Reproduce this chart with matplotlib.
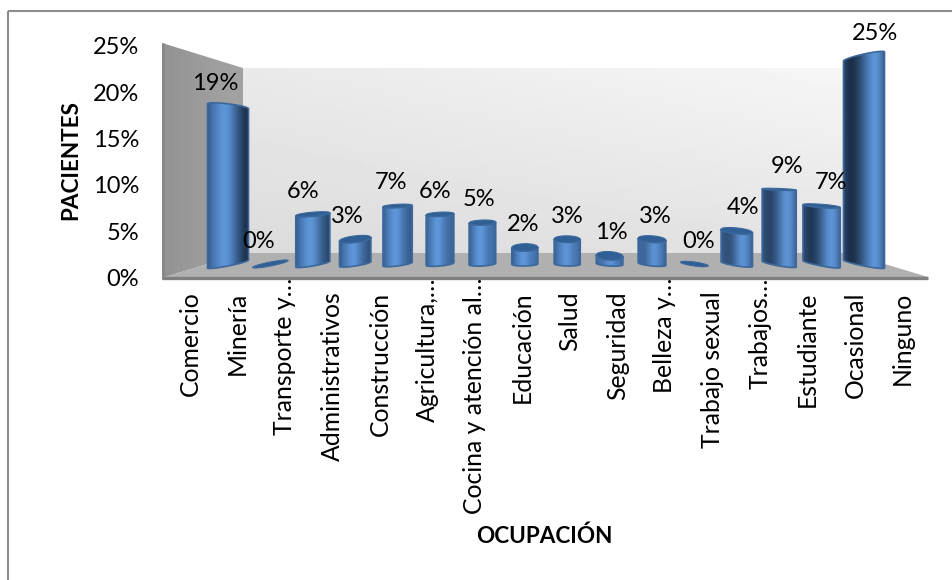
import numpy as np
import matplotlib
matplotlib.use('Agg')
import matplotlib.pyplot as plt
from matplotlib.patches import Polygon, Rectangle
from matplotlib.colors import to_rgb
from matplotlib.transforms import ScaledTranslation

plt.rcParams['font.family'] = ['Lato', 'DejaVu Sans']

categorias = ['Comercio', 'Minería', 'Transporte y…', 'Administrativos', 'Construcción',
              'Agricultura,…', 'Cocina y atención al…', 'Educación', 'Salud', 'Seguridad',
              'Belleza y…', 'Trabajo sexual', 'Trabajos…', 'Estudiante', 'Ocasional', 'Ninguno']
pacientes = [19, 0, 6, 3, 7, 6, 5, 2, 3, 1, 3, 0, 4, 9, 7, 25]
y_ticks = [0, 5, 10, 15, 20, 25]

W, H = 952, 580
fig = plt.figure(figsize=(W / 100, H / 100), dpi=100)


def axes_px(x0, y_top, x1, y_bottom):
    # axes from pixel box (y measured from top of the picture)
    a = fig.add_axes([x0 / W, 1 - y_bottom / H, (x1 - x0) / W, (y_bottom - y_top) / H])
    a.patch.set_alpha(0)
    return a


# background: frame (only top and left are in the picture) + the 3D box
bg = axes_px(0, 0, W, H)
bg.axis('off')
bg.plot([7.5, W], [11, 11], color='#8c8c8c', lw=1.5, solid_capstyle='butt', zorder=1)
bg.plot([7.5, 7.5], [11, H], color='#8c8c8c', lw=1.5, solid_capstyle='butt', zorder=1)

# back wall, soft gradient
gx, gy = np.meshgrid(np.linspace(0, 1, 60), np.linspace(0, 1, 60))
wall = 0.945 - 0.055 * gy - 0.03 * (1 - gx) + 0.02 * gx * (1 - gy)
bg.imshow(wall, extent=(243, 848, 253, 68), cmap='gray', vmin=0, vmax=1, aspect='auto', zorder=1)
# left wall, a bit darker to the outside
lw_img = bg.imshow(np.array([[0.58, 0.60, 0.62, 0.63]]), extent=(162, 243, 278, 43), cmap='gray',
                   vmin=0, vmax=1, aspect='auto', zorder=1, interpolation='bilinear')
lw_img.set_clip_path(Polygon([(162, 43), (243, 68), (243, 253), (162, 278)], transform=bg.transData))
bg.add_patch(Polygon([(162, 278), (243, 253), (848, 253), (928, 277)], fc='#b0b0b0', ec='none', zorder=2))
bg.plot([162, 928], [278, 278], color='#7f7f7f', lw=2.4, solid_capstyle='butt', zorder=3)
bg.plot([163, 163], [43, 279], color='#888888', lw=2.0, solid_capstyle='butt', zorder=3)
bg.set_xlim(0, W)
bg.set_ylim(H, 0)

# axis with the tick labels
ax = axes_px(166.25, 46, 926.25, 277.5)
ax.set_xlim(-0.5, 15.5)
ax.set_ylim(0, 25)
ax.set_yticks(y_ticks)
ax.set_yticklabels([str(v) + '%' for v in y_ticks], fontsize=17)
ax.set_xticks(range(len(categorias)))
ax.set_xticklabels(categorias, rotation=90, fontsize=17.8)
ax.tick_params(axis='y', length=0, pad=19.5)
ax.tick_params(axis='x', length=0, pad=10)
# cut labels start higher, right under the floor
up = ScaledTranslation(0, 14 / 100, fig.dpi_scale_trans)
for lab in ax.get_xticklabels():
    if lab.get_text().endswith('…'):
        lab.set_transform(lab.get_transform() + up)
for s in ax.spines.values():
    s.set_visible(False)

fig.text(71 / W, 1 - 160 / H, 'PACIENTES', rotation=90, ha='center', va='center',
         fontsize=16.2, fontweight='bold')
fig.text(544 / W, 1 - 536 / H, 'OCUPACIÓN', ha='center', va='center',
         fontsize=16.2, fontweight='bold')

# bars, further back in the box so smaller scale than the axis
PX_X = 42.4
PX_Y = 8.3
bx = axes_px(228 - 0.5 * PX_X, 264 - 25 * PX_Y, 228 + 15.5 * PX_X, 264)
bx.axis('off')

light = np.array(to_rgb('#5f97da'))
mid = np.array(to_rgb('#4878b4'))
dark = np.array(to_rgb('#1c3049'))
edge = '#3c689c'
cap = '#2f5f95'


def shade(t):
    # horizontal colours of one cylinder, t = -1 far left .. 1 far right
    u = np.linspace(0, 1, 80)
    p = 0.42 + 0.36 * max(t, 0)
    col = mid + np.outer(np.exp(-((u - p) / 0.22) ** 2), light - mid)
    q = 0.2 if t > 0 else 1.0
    amount = min(1, abs(t) ** 1.3 * 1.05) * np.exp(-((u - q) / 0.3) ** 2)
    amount = np.maximum(amount, 0.4 * np.abs(2 * u - 1) ** 5)
    col = col * (1 - amount[:, None]) + dark * amount[:, None]
    return col[None, :, :]


def arc(x, v, w, t, th):
    # front half of the ring of the cylinder at height v
    tilt = t * (-8 + 0.68 * v) / PX_Y
    b = 4.5 * (1 - v / 11)
    if v == 0:
        b = 2.0
    if b < -2.5:
        b = -2.5
    b = b / PX_Y
    xs = x - w / 2 * np.cos(th)
    ys = v - tilt / 2 * np.cos(th) - b * np.sin(th)
    return xs, ys, tilt, b


th = np.linspace(0, np.pi, 40)
for i, v in enumerate(pacientes):
    t = (i - 7.5) / 7.5
    w = (26 + 15 * t ** 2) / PX_X
    if v == 0:
        # empty category: only the flat disc on the floor
        w = w * 0.95
        x0, y0, tilt, b = arc(i, 0, w, t, th)
        xb = np.concatenate([x0, x0[::-1]])
        yb = np.concatenate([y0, (-tilt * np.cos(th[::-1])) - y0[::-1]])
        bx.add_patch(Polygon(np.column_stack([xb, yb]), fc=cap, ec=edge, lw=0.8, clip_on=False))
        continue
    x0, y0, _, _ = arc(i, 0, w, t, th)
    x1, y1, tilt, b = arc(i, v, w, t, th)
    outline = np.column_stack([np.concatenate([x0, x1[::-1]]), np.concatenate([y0, y1[::-1]])])
    bx.add_patch(Polygon(outline, fc='none', ec=edge, lw=1.2, clip_on=False, zorder=3))
    grad = bx.imshow(shade(t), extent=(i - w / 2, i + w / 2, -2, v + 3), aspect='auto',
                     zorder=2, interpolation='bilinear')
    grad.set_clip_box(fig.bbox)
    grad.set_clip_path(Polygon(outline, transform=bx.transData))
    if b > 0:
        # top of the cylinder is visible
        yc = v - tilt / 2 * np.cos(th)
        xt = np.concatenate([x1, x1[::-1]])
        yt = np.concatenate([yc - b * np.sin(th), (yc + b * np.sin(th))[::-1]])
        bx.add_patch(Polygon(np.column_stack([xt, yt]), fc=cap, ec=edge, lw=0.8,
                             clip_on=False, zorder=4))
bx.set_xlim(-0.5, 15.5)
bx.set_ylim(0, 25)

# value labels
lx = axes_px(215 - 0.5 * 44, 241 - 25 * PX_Y, 215 + 15.5 * 44, 241)
lx.set_xlim(-0.5, 15.5)
lx.set_ylim(0, 25)
lx.axis('off')
for i, v in enumerate(pacientes):
    lx.text(i, v, str(v) + '%', ha='center', va='center', fontsize=17, color='black')

fig.savefig('out.png', dpi=100)
